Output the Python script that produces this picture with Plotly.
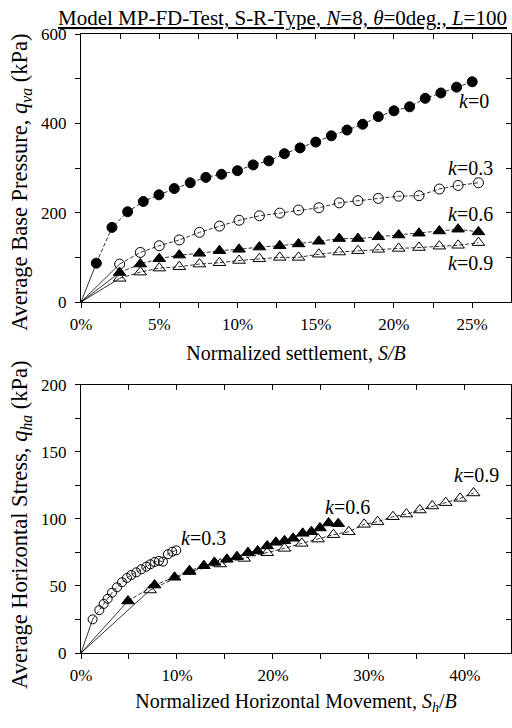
import plotly.graph_objects as go

# ---------- data: top plot (vertical) ----------
x_k0 = [0, 0.0098, 0.0198, 0.0298, 0.0398, 0.0498, 0.0596, 0.0698, 0.0798, 0.0898, 0.100,
        0.110, 0.120, 0.130, 0.140, 0.150, 0.160, 0.170, 0.180, 0.190, 0.200, 0.210,
        0.220, 0.230, 0.240, 0.250]
y_k0 = [0, 87, 167, 202, 225, 240, 254, 267, 279, 286, 294, 307, 316, 332, 345, 358,
        372, 385, 398, 415, 428, 437, 456, 468, 481, 493]

x_k = [0, 0.0247, 0.0379, 0.050, 0.0628, 0.0757, 0.0885, 0.101, 0.114, 0.127, 0.139,
       0.152, 0.165, 0.177, 0.190, 0.203, 0.216, 0.229, 0.241, 0.254]
y_k03 = [0, 85, 111, 126, 139, 156, 170, 183, 193, 199, 206, 211, 222, 227, 232, 237,
         238, 253, 261, 267]
y_k06 = [0, 66, 85, 97, 105, 109, 115, 118, 123, 126, 130, 136, 142, 142, 146, 150,
         154, 159, 163, 157]
y_k09 = [0, 53, 67, 76, 79, 85, 88, 93, 97, 100, 100, 107, 112, 115, 118, 120, 122,
         125, 127, 133]

# ---------- data: bottom plot (horizontal) ----------
xh_k03 = [0, 0.0121, 0.0191, 0.0236, 0.0278, 0.0323, 0.0375, 0.0427, 0.0479, 0.0524,
          0.0576, 0.0628, 0.068, 0.0722, 0.0767, 0.0812, 0.0854, 0.0906, 0.0951, 0.0993]
yh_k03 = [0, 25.1, 32, 36.6, 40.5, 45, 49, 52.8, 56, 58.2, 60.2, 62.5, 64.4, 66.2,
          67.9, 68.7, 68.2, 73.7, 75.6, 76.6]
xh_k06 = [0, 0.049, 0.0767, 0.0975, 0.113, 0.128, 0.139, 0.152, 0.1625, 0.174, 0.184,
          0.194, 0.203, 0.212, 0.221, 0.231, 0.240, 0.249, 0.258, 0.268]
yh_k06 = [0, 38.8, 50.7, 56.5, 61.4, 65.1, 67.6, 69.9, 71.9, 74.9, 76.1, 79.9, 82.6,
          83.8, 85.6, 89.3, 90.5, 93.3, 97, 96.5]
xh_k09 = [0, 0.072, 0.113, 0.145, 0.170, 0.194, 0.212, 0.230, 0.247, 0.263, 0.279,
          0.295, 0.309, 0.325, 0.339, 0.353, 0.366, 0.380, 0.395, 0.409]
yh_k09 = [0, 47, 60.7, 66.4, 70.6, 74.8, 78.1, 81.8, 85, 88.3, 90.5, 96, 98, 101.7,
          103.7, 106.7, 109.7, 112.2, 115.4, 119.4]

FONT = "Liberation Serif, Times New Roman, serif"
DASH = "4px,2px"

fig = go.Figure()


def add_series(xs, ys, symbol, size, xa, ya):
    # solid segment from origin to first measured point
    fig.add_trace(go.Scatter(x=xs[:2], y=ys[:2], mode="lines",
                             line=dict(color="black", width=0.8),
                             xaxis=xa, yaxis=ya, showlegend=False, hoverinfo="skip"))
    fig.add_trace(go.Scatter(x=xs[1:], y=ys[1:], mode="lines+markers",
                             line=dict(color="black", width=0.8, dash=DASH),
                             marker=dict(symbol=symbol, size=size, color="black",
                                         line=dict(color="black", width=1)),
                             xaxis=xa, yaxis=ya, showlegend=False))


add_series(x_k0, y_k0, "circle", 10, "x", "y")
add_series(x_k, y_k03, "circle-open", 10, "x", "y")
add_series(x_k, y_k06, "triangle-up", 11, "x", "y")
add_series(x_k, y_k09, "triangle-up-open", 11, "x", "y")

add_series(xh_k03, yh_k03, "circle-open", 9, "x2", "y2")
add_series(xh_k06, yh_k06, "triangle-up", 11, "x2", "y2")
add_series(xh_k09, yh_k09, "triangle-up-open", 11, "x2", "y2")

# origin dots
fig.add_trace(go.Scatter(x=[0], y=[0], mode="markers", marker=dict(size=4, color="black"),
                         xaxis="x", yaxis="y", showlegend=False))

top_dom = [0.567, 1.0]
bot_dom = [0.0, 0.433]
XR1 = [0, 0.2748]
YR1 = [0, 600]
XR2 = [0, 0.448]
YR2 = [0, 200]

TICK = 17
axis_common = dict(showgrid=False, zeroline=False, showline=True, linecolor="black",
                   linewidth=1, ticks="outside", ticklen=5, tickwidth=1, tickcolor="black",
                   tickfont=dict(family=FONT, size=TICK, color="black"))
inner_common = dict(showgrid=False, zeroline=False, showline=True, linecolor="black",
                    linewidth=1, ticks="inside", ticklen=5, tickwidth=1, tickcolor="black",
                    showticklabels=False)

fig.update_layout(
    width=512, height=728,
    margin=dict(l=81, r=1, t=34, b=75),
    paper_bgcolor="white", plot_bgcolor="white",
    showlegend=False,
    font=dict(family=FONT, color="black"),
    xaxis=dict(**axis_common, domain=[0, 1], anchor="y", range=XR1,
               tickformat=".0%", dtick=0.05, tick0=0, ticklabelstandoff=2,
               minor=dict(dtick=0.025, ticks="outside", ticklen=5, tickcolor="black", showgrid=False),
               title=dict(text="Normalized settlement, <i>S/B</i>", standoff=12,
                          font=dict(family=FONT, size=20, color="black"))),
    yaxis=dict(**axis_common, domain=top_dom, anchor="x", range=YR1, dtick=200,
               ticklabelstandoff=5,
               minor=dict(dtick=100, ticks="outside", ticklen=5, tickcolor="black", showgrid=False)),
    xaxis3=dict(**inner_common, overlaying="x", anchor="y", side="top", range=XR1,
                dtick=0.025, tick0=0),
    yaxis3=dict(**inner_common, overlaying="y", anchor="x", side="right", range=YR1,
                dtick=100),
    xaxis2=dict(**axis_common, domain=[0, 1], anchor="y2", range=XR2,
                tickformat=".0%", dtick=0.10, tick0=0, ticklabelstandoff=2,
                minor=dict(dtick=0.05, ticks="outside", ticklen=5, tickcolor="black", showgrid=False),
                title=dict(text="Normalized Horizontal Movement, <i>S</i><sub><i>h</i></sub>/<i>B</i>",
                           standoff=9, font=dict(family=FONT, size=20, color="black"))),
    yaxis2=dict(**axis_common, domain=bot_dom, anchor="x2", range=YR2, dtick=50,
                ticklabelstandoff=5,
                minor=dict(dtick=25, ticks="outside", ticklen=5, tickcolor="black", showgrid=False)),
    xaxis4=dict(**inner_common, overlaying="x2", anchor="y2", side="top", range=XR2,
                dtick=0.05, tick0=0),
    yaxis4=dict(**inner_common, overlaying="y2", anchor="x2", side="right", range=YR2,
                dtick=25),
)

# dummy invisible traces so overlay axes render
fig.add_trace(go.Scatter(x=[0], y=[0], mode="markers", marker=dict(opacity=0),
                         xaxis="x3", yaxis="y3", showlegend=False, hoverinfo="skip"))
fig.add_trace(go.Scatter(x=[0], y=[0], mode="markers", marker=dict(opacity=0),
                         xaxis="x4", yaxis="y4", showlegend=False, hoverinfo="skip"))

lab_font = dict(family=FONT, size=20, color="black")
labels = [
    ("x", "y", 0.251, 450, "<i>k</i>=0"),
    ("x", "y", 0.249, 299, "<i>k</i>=0.3"),
    ("x", "y", 0.249, 196, "<i>k</i>=0.6"),
    ("x", "y", 0.249, 87, "<i>k</i>=0.9"),
    ("x2", "y2", 0.128, 86, "<i>k</i>=0.3"),
    ("x2", "y2", 0.278, 109, "<i>k</i>=0.6"),
    ("x2", "y2", 0.4125, 133, "<i>k</i>=0.9"),
]
for xa, ya, xv, yv, t in labels:
    fig.add_annotation(x=xv, y=yv, xref=xa, yref=ya, text=t, showarrow=False,
                       font=lab_font, xanchor="center", yanchor="middle")

# y-axis titles (rotated)
ytitle_font = dict(family=FONT, size=22.5, color="black")
fig.add_annotation(x=-0.1395, y=0.761, xref="paper", yref="paper", textangle=-90,
                   text="Average Base Pressure, <i>q</i><sub><i>va</i></sub> (kPa)",
                   showarrow=False, xanchor="center", yanchor="middle", font=ytitle_font)
fig.add_annotation(x=-0.1395, y=0.207, xref="paper", yref="paper", textangle=-90,
                   text="Average Horizontal Stress, <i>q</i><sub><i>ha</i></sub> (kPa)",
                   showarrow=False, xanchor="center", yanchor="middle", font=ytitle_font)

fig.add_annotation(x=(282 - 81) / (512 - 82), y=1.0, xref="paper", yref="paper", text=
                   "<u>Model MP-FD-Test, S-R-Type, <i>N</i>=8, <i>θ</i>=0deg., <i>L</i>=100</u>",
                   showarrow=False, xanchor="center", yanchor="bottom", yshift=2,
                   font=dict(family=FONT, size=21, color="black"))

fig.write_html("out.html")
